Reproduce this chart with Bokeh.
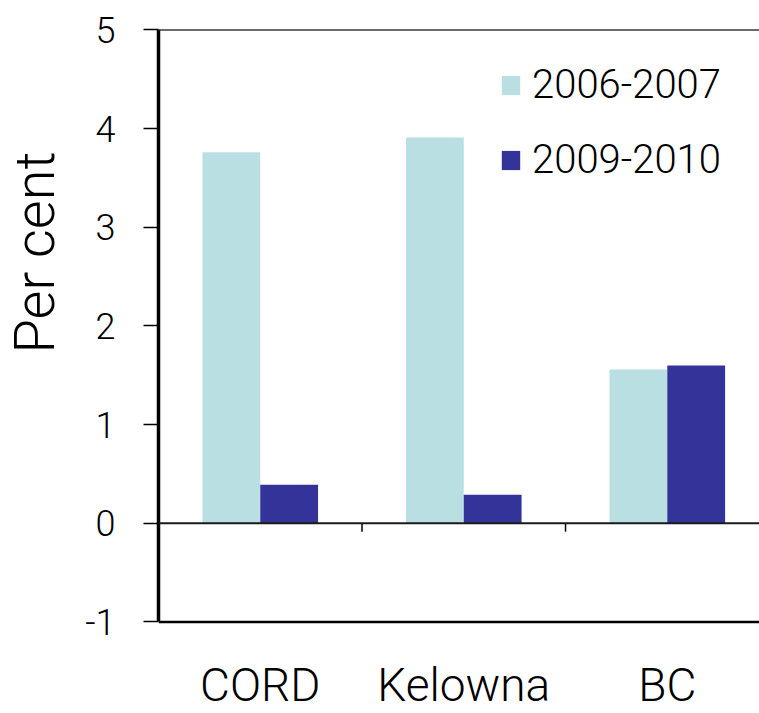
import numpy as np
from bokeh.plotting import figure
from bokeh.layouts import row
from bokeh.models import (Range1d, LinearAxis, FixedTicker, Span, Legend,
                          LegendItem, ColumnDataSource)
from bokeh.core.properties import value
from bokeh.embed import file_html
from bokeh.resources import INLINE

# Annual change, per cent
regions = ["CORD", "Kelowna", "BC"]
change_2006_2007 = [3.76, 3.91, 1.56]
change_2009_2010 = [0.39, 0.29, 1.60]
series_names = ["2006-2007", "2009-2010"]
y_ticks = [-1, 0, 1, 2, 3, 4, 5]
y_tick_labels = ["-1", "0", "1", "2", "3", "4", "5"]
y_title = "Per cent"

FONT = "Roboto Light, Roboto, sans-serif"
LIGHT = "#BADFE2"
DARK = "#333399"

W, H = 759, 713
TITLE_W = 70           # strip holding the vertical axis title
FRAME_LEFT = 158       # x of the value axis

centers = np.arange(len(regions)) + 0.5
bar_w = 0.284
off = 0.142

# --- narrow strip with the rotated axis title (pixel coordinates) ---
t = figure(width=TITLE_W, height=H, x_range=Range1d(0, TITLE_W),
           y_range=Range1d(0, H), x_axis_location=None, y_axis_location=None,
           toolbar_location=None, output_backend="svg",
           min_border=0, outline_line_color=None,
           background_fill_color="white", border_fill_color="white")
t.grid.visible = False
t.text(x=[34], y=[H - 252], text=[y_title], angle=np.pi / 2,
       text_font=value(FONT), text_font_size="56px",
       text_align="center", text_baseline="middle", text_color="black")

# --- main chart ---
p = figure(width=W - TITLE_W, height=H,
           x_range=Range1d(0, 2.953), y_range=Range1d(-1.928, 5.299),
           x_axis_location=None, y_axis_location=None,
           toolbar_location=None, output_backend="svg",
           min_border_left=FRAME_LEFT - TITLE_W, min_border_right=0,
           min_border_top=0, min_border_bottom=0,
           outline_line_color=None, background_fill_color="white",
           border_fill_color="white")
p.grid.visible = False

src = ColumnDataSource(dict(
    x_a=centers - off, x_b=centers + off,
    a=change_2006_2007, b=change_2009_2010,
))
ra = p.vbar(x="x_a", top="a", bottom=0, width=bar_w, source=src,
            fill_color=LIGHT, line_color=None)
rb = p.vbar(x="x_b", top="b", bottom=0, width=bar_w, source=src,
            fill_color=DARK, line_color=None)

# top, zero and bottom rules
p.add_layout(Span(location=5, dimension="width", line_color="#3a3a3a", line_width=1.5))
p.add_layout(Span(location=0, dimension="width", line_color="#1a1a1a", line_width=2))
p.add_layout(Span(location=-1, dimension="width", line_color="black", line_width=2.5))

# category separators hanging from the zero line
seps = np.arange(1, len(regions))
p.segment(x0=seps, y0=0, x1=seps, y1=-0.085, line_color="black", line_width=1.5)

# category names under the plot
p.text(x=centers, y=-1.638, text=regions, text_font=value(FONT),
       text_font_size="46px", text_align="center", text_baseline="middle",
       text_color="black")

yaxis = LinearAxis(
    ticker=FixedTicker(ticks=y_ticks), bounds=(-1, 5),
    major_label_overrides={t_: s for t_, s in zip(y_ticks, y_tick_labels)},
    axis_line_width=3.5, axis_line_color="black",
    major_tick_out=15, major_tick_in=0, major_tick_line_width=1.5,
    major_tick_line_color="black",
    minor_tick_out=0, minor_tick_in=0,
    major_label_standoff=28, major_label_text_font=FONT,
    major_label_text_font_size="36px", major_label_text_color="black",
)
p.add_layout(yaxis, "left")

legend = Legend(
    items=[LegendItem(label=series_names[0], renderers=[ra]),
           LegendItem(label=series_names[1], renderers=[rb])],
    location=(341, 530), orientation="vertical",
    glyph_width=23, glyph_height=24, label_standoff=10, spacing=28,
    padding=0, margin=0, border_line_color=None, background_fill_alpha=0,
    label_text_font=FONT, label_text_font_size="40px", label_text_color="black",
)
p.add_layout(legend)

layout = row(t, p, spacing=0)
open("out.html", "w").write(file_html(layout, INLINE))
